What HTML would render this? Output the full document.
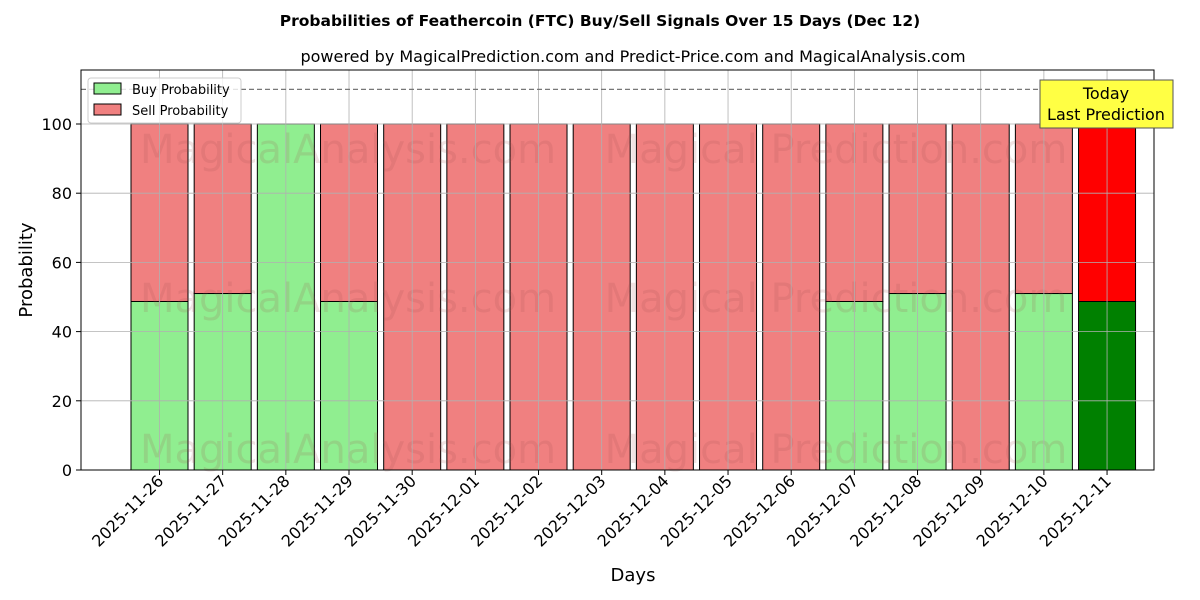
<!DOCTYPE html>
<html><head><style>body{margin:0;background:#fff}svg{display:block;font-family:"DejaVu Sans","Liberation Sans",sans-serif}</style></head>
<body>
<svg width="1200" height="600" xmlns="http://www.w3.org/2000/svg">
<rect width="1200" height="600" fill="#fff"/>
<text x="600" y="26" text-anchor="middle" font-size="15.5" font-weight="bold">Probabilities of Feathercoin (FTC) Buy/Sell Signals Over 15 Days (Dec 12)</text>
<text x="633" y="62" text-anchor="middle" font-size="16">powered by MagicalPrediction.com and Predict-Price.com and MagicalAnalysis.com</text>
<g id="bars"></g>
<g font-size="40" fill="#a05050" fill-opacity="0.16" text-anchor="middle">
<text x="348" y="163">MagicalAnalysis.com</text><text x="836" y="163">Magical Prediction.com</text>
<text x="348" y="312">MagicalAnalysis.com</text><text x="836" y="312">Magical Prediction.com</text>
<text x="348" y="463">MagicalAnalysis.com</text><text x="836" y="463">Magical Prediction.com</text>
</g>
<g id="grid"></g>
<line x1="81" x2="1154" y1="89.4" y2="89.4" stroke="#777" stroke-dasharray="5,3" stroke-width="1.2"/>
<rect x="81" y="70" width="1073" height="400" fill="none" stroke="#000" stroke-width="1"/>
<text x="633" y="581" text-anchor="middle" font-size="18">Days</text>
<text transform="translate(32,270) rotate(-90)" text-anchor="middle" font-size="18">Probability</text>
<rect x="88" y="78" width="153" height="45" fill="#fff" fill-opacity="0.8" stroke="#ccc" rx="3"/>
<rect x="94" y="83" width="27" height="11" fill="#90ee90" stroke="#000"/>
<text x="132" y="94" font-size="13">Buy Probability</text>
<rect x="94" y="104" width="27" height="11" fill="#f08080" stroke="#000"/>
<text x="132" y="115" font-size="13">Sell Probability</text>
<rect x="1040" y="80" width="133" height="48" fill="#ffff44" stroke="#555"/>
<text x="1106" y="99" text-anchor="middle" font-size="16">Today</text>
<text x="1106" y="120" text-anchor="middle" font-size="16">Last Prediction</text>
<g id="yt" font-size="16" text-anchor="end"></g>
<g id="xt" font-size="16" text-anchor="end"></g>
</svg>
<script>
const ns="http://www.w3.org/2000/svg";
const buy=[48.7,51,100,48.7,0,0,0,0,0,0,0,48.7,51,0,51,48.7];
const d=["2025-11-26","2025-11-27","2025-11-28","2025-11-29","2025-11-30","2025-12-01","2025-12-02","2025-12-03","2025-12-04","2025-12-05","2025-12-06","2025-12-07","2025-12-08","2025-12-09","2025-12-10","2025-12-11"];
const Y=v=>470-v*3.46;
const g=document.getElementById("bars"),gr=document.getElementById("grid"),yt=document.getElementById("yt"),xt=document.getElementById("xt");
function el(t,a,p){const e=document.createElementNS(ns,t);for(const k in a)e.setAttribute(k,a[k]);p.appendChild(e);return e;}
for(let v=0;v<=100;v+=20){el("line",{x1:81,x2:1154,y1:Y(v),y2:Y(v),stroke:"#b0b0b0","stroke-width":0.8},gr);
el("line",{x1:76,x2:81,y1:Y(v),y2:Y(v),stroke:"#000"},yt);const t=el("text",{x:72,y:Y(v)+6},yt);t.textContent=v;}
for(let i=0;i<16;i++){const c=159.5+i*63.17;
el("line",{x1:c,x2:c,y1:70,y2:470,stroke:"#b0b0b0","stroke-width":0.8},gr);}
for(let i=0;i<16;i++){const c=159.5+i*63.17,last=i==15;
const b=buy[i];
if(b<100)el("rect",{x:c-28.5,y:Y(100),width:57,height:(100-b)*3.46,fill:last?"#ff0000":"#f08080",stroke:"#000","stroke-width":1},g);
if(b>0)el("rect",{x:c-28.5,y:Y(b),width:57,height:b*3.46,fill:last?"#008000":"#90ee90",stroke:"#000","stroke-width":1},g);
el("line",{x1:c,x2:c,y1:470,y2:475,stroke:"#000"},xt);
const t=el("text",{transform:`translate(${c+5},${482}) rotate(-45)`},xt);t.textContent=d[i];}
</script>
</body></html>
